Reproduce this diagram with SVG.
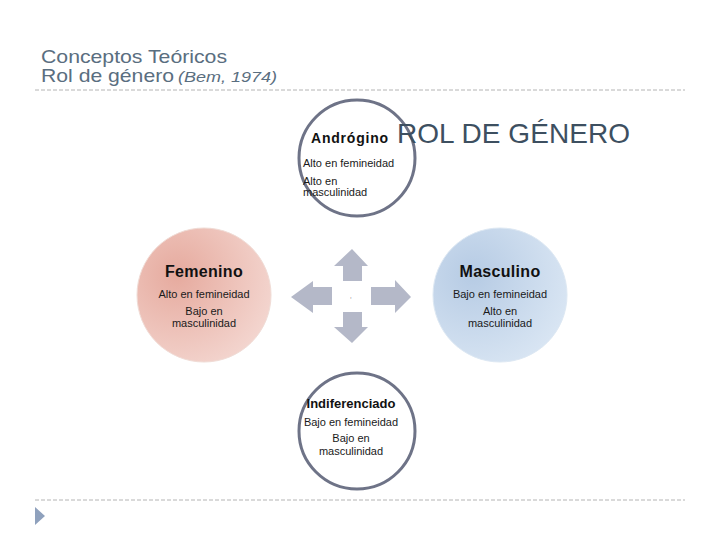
<svg xmlns="http://www.w3.org/2000/svg" width="720" height="540" viewBox="0 0 720 540">
<style>
.t{font-family:"Liberation Sans",Arial,sans-serif;fill:#1a1a1a}
.h{font-weight:bold;fill:#111}
.s{font-size:11px}
.arr{fill:#b4b8c8}
.ring{fill:#fff;stroke:#6e7387;stroke-width:3}
.dash{stroke:#b4b4b4;stroke-width:1;stroke-dasharray:4 2}
</style>
<defs>
<radialGradient id="gp" cx="0.3" cy="0.35" r="0.8">
<stop offset="0" stop-color="#e6aa9e"/><stop offset="1" stop-color="#f4d8d2"/>
</radialGradient>
<radialGradient id="gb" cx="0.3" cy="0.35" r="0.8">
<stop offset="0" stop-color="#b6cbe4"/><stop offset="1" stop-color="#dbe7f4"/>
</radialGradient>
</defs>
<rect width="720" height="540" fill="#fff"/>
<g id="title">
<text class="t" x="41" y="63" font-size="18.5" textLength="186" lengthAdjust="spacingAndGlyphs" style="fill:#5a6e80">Conceptos Teóricos</text>
<text class="t" x="41" y="82" font-size="18.5" style="fill:#5a6e80"><tspan textLength="133" lengthAdjust="spacingAndGlyphs">Rol de género</tspan><tspan x="178" font-size="15" font-style="italic" textLength="99" lengthAdjust="spacingAndGlyphs">(Bem, 1974)</tspan></text>
</g>
<line class="dash" x1="35" y1="90" x2="685" y2="90"/>
<line class="dash" x1="35" y1="500" x2="685" y2="500"/>
<polygon points="35,507 45,516 35,525" fill="#8fa1bd"/>
<g id="connectors">
<polygon class="arr" points="352,249 368,266 362,266 362,281 343,281 343,266 334,266"/>
<polygon class="arr" points="352,343 368,327 362,327 362,312 343,312 343,327 334,327"/>
<polygon class="arr" points="291,297 313,281 313,287 332,287 332,305 313,305 313,313"/>
<polygon class="arr" points="411,297 395,280 395,287 371,287 371,305 395,305 395,313"/>
<text class="t" x="350" y="298" font-size="6">,</text>
</g>
<g id="androgino">
<circle class="ring" cx="357" cy="158" r="58"/>
<text class="t h" x="311" y="143" font-size="14" letter-spacing="0.8">Andrógino</text>
<text class="t s" x="303" y="167">Alto en femineidad</text>
<text class="t s" x="303" y="185">Alto en</text>
<text class="t s" x="303" y="196">masculinidad</text>
</g>
<g id="rol">
<text class="t" x="397" y="143" font-size="28" textLength="233" lengthAdjust="spacing" style="fill:#3d4f60">ROL DE GÉNERO</text>
</g>
<g id="femenino">
<circle cx="204" cy="295" r="67" fill="url(#gp)" stroke="#f0dcd6" stroke-width="1"/>
<text class="t h" x="204" y="277" font-size="16" text-anchor="middle" letter-spacing="0.3">Femenino</text>
<text class="t s" x="204" y="298" text-anchor="middle">Alto en femineidad</text>
<text class="t s" x="204" y="315" text-anchor="middle">Bajo en</text>
<text class="t s" x="204" y="327" text-anchor="middle">masculinidad</text>
</g>
<g id="masculino">
<circle cx="500" cy="295" r="67" fill="url(#gb)" stroke="#dde8f3" stroke-width="1"/>
<text class="t h" x="500" y="277" font-size="16" text-anchor="middle" letter-spacing="0.3">Masculino</text>
<text class="t s" x="500" y="298" text-anchor="middle">Bajo en femineidad</text>
<text class="t s" x="500" y="315" text-anchor="middle">Alto en</text>
<text class="t s" x="500" y="327" text-anchor="middle">masculinidad</text>
</g>
<g id="indiferenciado">
<circle class="ring" cx="357" cy="431" r="58"/>
<text class="t h" x="351" y="408" font-size="13" text-anchor="middle">Indiferenciado</text>
<text class="t s" x="351" y="426" text-anchor="middle">Bajo en femineidad</text>
<text class="t s" x="351" y="442" text-anchor="middle">Bajo en</text>
<text class="t s" x="351" y="455" text-anchor="middle">masculinidad</text>
</g>
</svg>
